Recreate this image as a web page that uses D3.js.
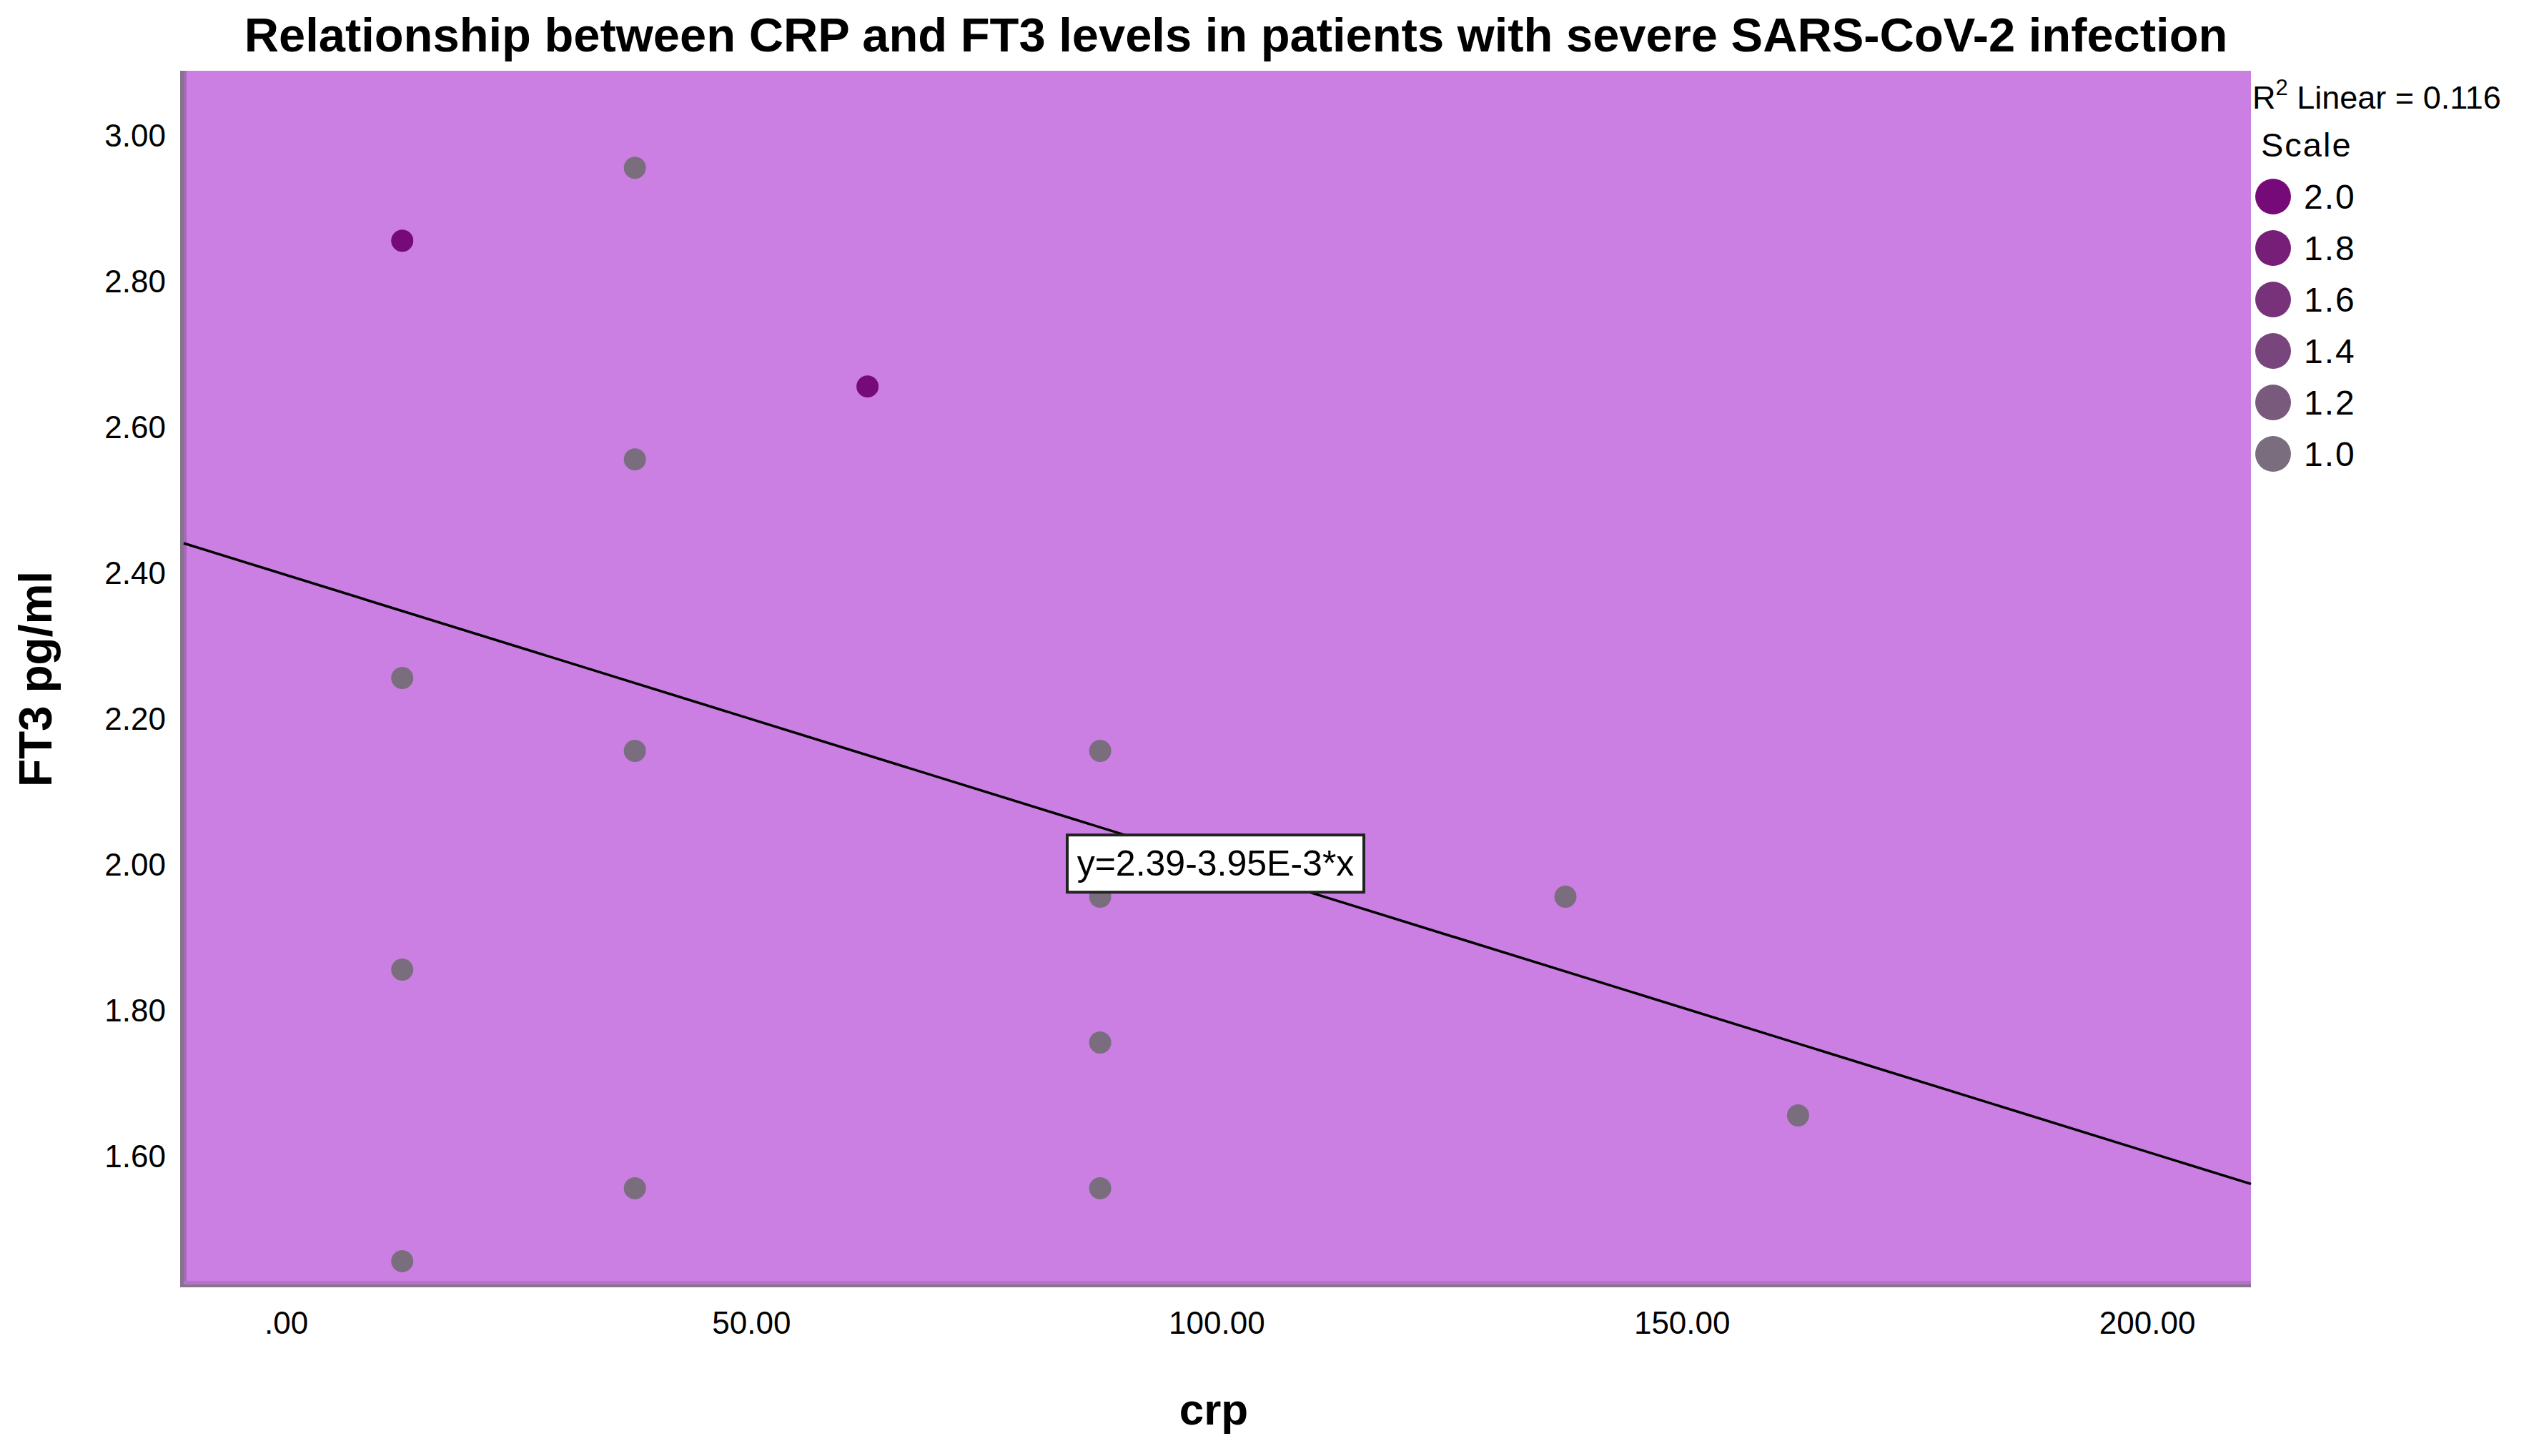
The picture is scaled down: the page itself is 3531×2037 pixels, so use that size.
<!DOCTYPE html>
<html>
<head>
<meta charset="utf-8">
<script src="https://cdn.jsdelivr.net/npm/d3@7"></script>
<style>
  html, body { margin: 0; padding: 0; background: #fff; }
  svg { display: block; font-family: "Liberation Sans", Arial, sans-serif; }
</style>
</head>
<body>
<svg id="chart" width="3531" height="2037"></svg>
<script>
// ---- data ----
const crp   = [12.5, 37.5, 62.5, 37.5, 12.5, 37.5, 87.5, 87.5, 137.5, 12.5, 87.5, 162.5, 37.5, 87.5, 12.5];
const ft3   = [2.85, 2.95, 2.65, 2.55, 2.25, 2.15, 2.15, 1.95, 1.95, 1.85, 1.75, 1.65, 1.55, 1.55, 1.45];
const scaleVal = [2, 1, 2, 1, 1, 1, 1, 1, 1, 1, 1, 1, 1, 1, 1];
const xTicks = [0, 50, 100, 150, 200];
const yTicks = [1.6, 1.8, 2.0, 2.2, 2.4, 2.6, 2.8, 3.0];
const legendVals = [2.0, 1.8, 1.6, 1.4, 1.2, 1.0];
const intercept = 2.39;
const slope = -3.95e-3;
const r2 = 0.116;
const titleText = "Relationship between CRP and FT3 levels in patients with severe SARS-CoV-2 infection";

// ---- layout ----
const svg = d3.select("#chart");
const L = 252, R = 3149, T = 99, B = 1801;
const x = d3.scaleLinear().domain([-11.37, 211.17]).range([L, R]);
const y = d3.scaleLinear().domain([1.4141, 3.0831]).range([B, T]);
const color = d3.scaleLinear().domain([1, 2]).range(["#7a6e7e", "#760a78"]);

// plot background
svg.append("rect").attr("x", L).attr("y", T).attr("width", R - L).attr("height", B - T)
  .attr("fill", "#cb7fe3");
// inner shading next to axes
svg.append("rect").attr("x", L + 5).attr("y", T).attr("width", 4).attr("height", B - T)
  .attr("fill", "#a868bc");
svg.append("rect").attr("x", L).attr("y", B - 9).attr("width", R - L).attr("height", 5)
  .attr("fill", "#b472cc");
// axis lines
svg.append("rect").attr("x", L).attr("y", T).attr("width", 5).attr("height", B - T)
  .attr("fill", "#86748a");
svg.append("rect").attr("x", L).attr("y", B - 4).attr("width", R - L).attr("height", 4)
  .attr("fill", "#86748a");

// y axis tick labels
const yAxis = d3.axisLeft(y).tickValues(yTicks).tickSize(0).tickPadding(20)
  .tickFormat(d3.format(".2f"));
const gy = svg.append("g").attr("transform", `translate(${L},7)`).call(yAxis);
gy.select(".domain").remove();
gy.selectAll("text").attr("font-size", 44).attr("fill", "#000")
  .attr("font-family", "'Liberation Sans', Arial, sans-serif");

// x axis tick labels
const fmtX = d => d === 0 ? ".00" : d3.format(".2f")(d);
const xAxis = d3.axisBottom(x).tickValues(xTicks).tickSize(0).tickPadding(34).tickFormat(fmtX);
const gx = svg.append("g").attr("transform", `translate(0,${B})`).call(xAxis);
gx.select(".domain").remove();
gx.selectAll("text").attr("font-size", 44).attr("fill", "#000")
  .attr("font-family", "'Liberation Sans', Arial, sans-serif");

// regression line
const x0 = x.domain()[0], x1 = x.domain()[1];
svg.append("line")
  .attr("x1", x(x0) + 5).attr("y1", y(intercept + slope * x0))
  .attr("x2", x(x1)).attr("y2", y(intercept + slope * x1))
  .attr("stroke", "#000").attr("stroke-width", 3.5);

// points
svg.append("g").selectAll("circle").data(crp.map((c, i) => ({c, f: ft3[i], s: scaleVal[i]})))
  .join("circle")
  .attr("cx", d => x(d.c)).attr("cy", d => y(d.f)).attr("r", 15.5)
  .attr("fill", d => color(d.s));

// equation label
const xm = (x0 + x1) / 2;
const eq = svg.append("g").attr("transform", `translate(${x(xm)},${y(intercept + slope * xm)})`);
const eqW = 415, eqH = 80;
eq.append("rect").attr("x", -eqW / 2).attr("y", -eqH / 2).attr("width", eqW).attr("height", eqH)
  .attr("fill", "#fff").attr("stroke", "#222").attr("stroke-width", 4);
eq.append("text").attr("text-anchor", "middle").attr("y", 17).attr("font-size", 50)
  .attr("fill", "#000").text("y=2.39-3.95E-3*x");

// title
const title = svg.append("text").attr("x", 1729).attr("y", 72).attr("text-anchor", "middle")
  .attr("font-weight", "bold").attr("font-size", 62).attr("fill", "#000").text(titleText);
const tw = title.node().getComputedTextLength();
title.attr("font-size", 62 * 2775 / tw);

// axis titles
svg.append("text").attr("x", 1698).attr("y", 1993).attr("text-anchor", "middle")
  .attr("font-weight", "bold").attr("font-size", 62).attr("fill", "#000").text("crp");
svg.append("text").attr("transform", "translate(72,950) rotate(-90)").attr("text-anchor", "middle")
  .attr("font-weight", "bold").attr("font-size", 64).attr("fill", "#000").text("FT3 pg/ml");

// legend
const r2t = svg.append("text").attr("x", 3151).attr("y", 152).attr("font-size", 45).attr("fill", "#000");
r2t.append("tspan").text("R");
r2t.append("tspan").attr("font-size", 31).attr("dy", -19).text("2");
r2t.append("tspan").attr("dy", 19).text(" Linear = " + d3.format(".3f")(r2));

svg.append("text").attr("x", 3163).attr("y", 219).attr("font-size", 47).attr("fill", "#000")
  .attr("letter-spacing", 2).text("Scale");

const lg = svg.append("g").selectAll("g").data(legendVals).join("g")
  .attr("transform", (d, i) => `translate(3180,${275 + i * 72})`);
lg.append("circle").attr("r", 25).attr("fill", d => color(d));
lg.append("text").attr("x", 43).attr("y", 17).attr("font-size", 48).attr("fill", "#000")
  .attr("letter-spacing", 2).text(d => d3.format(".1f")(d));
</script>
</body>
</html>
